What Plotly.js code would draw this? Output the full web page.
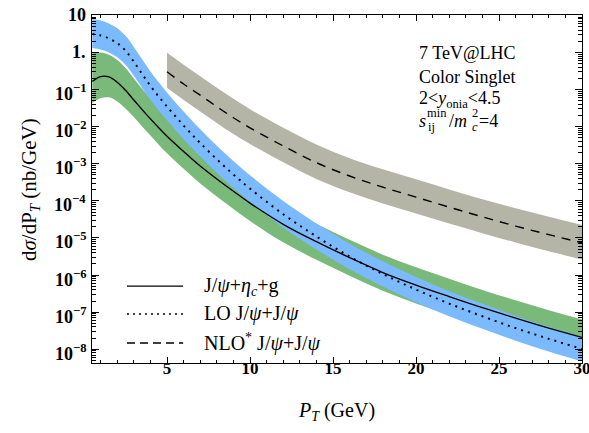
<!DOCTYPE html>
<html>
<head>
<meta charset="utf-8">
<script src="https://cdn.plot.ly/plotly-3.0.1.min.js"></script>
<style>html,body{margin:0;padding:0;background:#fff}#chart{width:589px;height:433px}</style>
</head>
<body>
<div id="chart"></div>
<script>
// ---- data ----
var ptCS = [0.5,1,1.5,2,2.5,3,3.5,4,4.5,5,5.5,6,6.5,7,8,9,10,12,14,16,18,20,22,24,26,28,30];

// J/psi + eta_c + g (solid) and its band (green)
var etacCentral = [0.166,0.224,0.219,0.158,0.0955,0.0525,0.0288,0.0162,9.33e-3,5.50e-3,3.39e-3,2.14e-3,1.35e-3,8.71e-4,3.89e-4,1.82e-4,8.71e-5,2.34e-5,7.94e-6,2.95e-6,1.17e-6,5.37e-7,2.63e-7,1.32e-7,6.92e-8,3.72e-8,2.09e-8];
var etacUpper   = [0.955,1.0,0.871,0.631,0.380,0.200,0.105,0.0562,0.0316,0.0182,0.0111,6.92e-3,4.32e-3,2.75e-3,1.20e-3,5.56e-4,2.63e-4,7.08e-5,2.40e-5,8.91e-6,3.55e-6,1.62e-6,7.94e-7,3.98e-7,2.09e-7,1.12e-7,6.31e-8];
var etacLower   = [0.0437,0.0589,0.0617,0.0479,0.0309,0.0182,0.0101,5.75e-3,3.27e-3,1.91e-3,1.17e-3,7.33e-4,4.60e-4,2.95e-4,1.31e-4,6.07e-5,2.88e-5,7.67e-6,2.57e-6,9.55e-7,3.76e-7,1.70e-7,8.32e-8,4.17e-8,2.19e-8,1.17e-8,6.61e-9];

// LO J/psi + J/psi (dotted) and its band (blue)
var loCentral = [3.16,2.88,2.40,1.78,1.12,0.562,0.263,0.126,0.0646,0.0347,0.0191,0.0107,6.17e-3,3.63e-3,1.32e-3,5.13e-4,2.14e-4,4.37e-5,1.10e-5,3.16e-6,1.07e-6,4.07e-7,1.70e-7,7.76e-8,3.72e-8,1.91e-8,1.02e-8];
var loUpper   = [7.94,7.24,6.03,4.47,2.82,1.41,0.653,0.309,0.157,0.0832,0.0455,0.0255,0.0146,8.51e-3,3.06e-3,1.18e-3,4.90e-4,9.89e-5,2.45e-5,7.00e-6,2.34e-6,8.91e-7,3.67e-7,1.68e-7,7.94e-8,4.07e-8,2.19e-8];
var loLower   = [1.32,1.20,1.0,0.741,0.468,0.236,0.110,0.0531,0.0274,0.0148,8.17e-3,4.60e-3,2.65e-3,1.57e-3,5.73e-4,2.23e-4,9.33e-5,1.93e-5,4.90e-6,1.43e-6,4.90e-7,1.86e-7,7.76e-8,3.55e-8,1.70e-8,8.71e-9,4.68e-9];

// NLO* J/psi + J/psi (dashed) and its band (grey)
var ptNLO = [5,6,7,8,9,10,12,14,16,18,20,22,24,26,28,30];
var nloCentral = [0.302,0.141,0.0708,0.0347,0.0174,9.33e-3,3.02e-3,1.07e-3,4.68e-4,2.34e-4,1.26e-4,6.76e-5,3.72e-5,2.09e-5,1.23e-5,7.41e-6];
var nloUpper   = [0.977,0.468,0.229,0.112,0.0562,0.0295,9.33e-3,3.31e-3,1.41e-3,7.08e-4,3.80e-4,2.04e-4,1.10e-4,6.31e-5,3.72e-5,2.24e-5];
var nloLower   = [0.112,0.0525,0.0257,0.0126,6.31e-3,3.39e-3,1.10e-3,3.89e-4,1.70e-4,8.51e-5,4.57e-5,2.45e-5,1.35e-5,7.59e-6,4.37e-6,2.63e-6];

var xTickVals = [5,10,15,20,25,30];
var yTickVals = [1e-8,1e-7,1e-6,1e-5,1e-4,1e-3,1e-2,1e-1,1,10];
var yTickText = ['10<sup>\u22128</sup>','10<sup>\u22127</sup>','10<sup>\u22126</sup>','10<sup>\u22125</sup>','10<sup>\u22124</sup>','10<sup>\u22123</sup>','10<sup>\u22122</sup>','10<sup>\u22121</sup>','1.','10'];
var yTitle = 'd<i>\u03c3</i>/dP<sub><i>T</i></sub> (nb/GeV)';
var legendLabels = ['J/<i>\u03c8</i>+<i>\u03b7</i><sub><i>c</i></sub>+g','LO J/<i>\u03c8</i>+J/<i>\u03c8</i>','NLO<sup>*</sup> J/<i>\u03c8</i>+J/<i>\u03c8</i>'];
var infoLines = ['7 TeV@LHC','Color Singlet','2&lt;<i>y</i><sub>onia</sub>&lt;4.5'];

// ---- styling ----
var GREEN = '#79b979', BLUE = '#7cbaff', GREY = '#b4b4a7';
var SERIF = 'Liberation Serif, Times New Roman, serif';

function band(x, lo, hi, color) {
  return [
    {x: x, y: lo, type: 'scatter', mode: 'lines', line: {width: 0, shape: 'spline', color: color}, hoverinfo: 'skip', showlegend: false},
    {x: x, y: hi, type: 'scatter', mode: 'lines', fill: 'tonexty', fillcolor: color, line: {width: 0, shape: 'spline', color: color}, hoverinfo: 'skip', showlegend: false}
  ];
}

var traces = [].concat(
  band(ptCS, etacLower, etacUpper, GREEN),
  band(ptCS, loLower, loUpper, BLUE),
  band(ptNLO, nloLower, nloUpper, GREY),
  [
    {x: ptCS, y: etacCentral, type: 'scatter', mode: 'lines', line: {color: 'black', width: 1.4, shape: 'spline'}, showlegend: false},
    {x: ptCS, y: loCentral, type: 'scatter', mode: 'lines', line: {color: 'black', width: 2, dash: '2px,5px', shape: 'spline'}, showlegend: false},
    {x: ptNLO, y: nloCentral, type: 'scatter', mode: 'lines', line: {color: 'black', width: 1.4, dash: '9px,7px', shape: 'spline'}, showlegend: false}
  ]
);

// minor tick positions for the log axis
var yMinor = [];
for (var e = -9; e <= 1; e++) { for (var m = 2; m <= 9; m++) { yMinor.push(m * Math.pow(10, e)); } }

var annotations = [];
var shapes = [];
function px2paperX(p) { return (p - 92) / 490; }
function px2paperY(p) { return (363 - p) / 348; }

// y tick labels, placed on the y scale (log axis -> exponent)
for (var k = 0; k < yTickVals.length; k++) {
  var hasSup = yTickText[k].indexOf('<sup>') >= 0;
  annotations.push({xref: 'paper', yref: 'y', x: px2paperX(88), y: Math.log10(yTickVals[k]), xanchor: 'right', yanchor: 'middle',
    yshift: hasSup ? -3 : 0, text: '<b>' + yTickText[k] + '</b>', showarrow: false,
    font: {family: SERIF, size: 18, color: 'black'}});
}
// y axis title
annotations.push({xref: 'paper', yref: 'paper', x: px2paperX(30), y: px2paperY(190), xanchor: 'center', yanchor: 'middle',
  textangle: -90, text: yTitle, showarrow: false, font: {family: SERIF, size: 21, color: 'black'}});

var legY = [0.221, 0.141, 0.0575];
var legDash = ['solid', '2px,4px', '8px,5px'];
for (var i = 0; i < 3; i++) {
  shapes.push({type: 'line', xref: 'paper', yref: 'paper', x0: 0.0714, x1: 0.186, y0: legY[i], y1: legY[i],
    line: {color: 'black', width: i === 1 ? 1.6 : 1.3, dash: legDash[i]}});
  annotations.push({xref: 'paper', yref: 'paper', x: 0.2245, y: legY[i], xanchor: 'left', yanchor: 'middle',
    text: legendLabels[i], showarrow: false, font: {family: SERIF, size: 20, color: 'black'}});
}
var infoPy = [53, 77, 100];
for (var j = 0; j < 3; j++) {
  annotations.push({xref: 'paper', yref: 'paper', x: px2paperX(417), y: px2paperY(infoPy[j]), xanchor: 'left', yanchor: 'middle',
    text: infoLines[j], showarrow: false, font: {family: SERIF, size: 18, color: 'black'}});
}
// s_ij^min / m_c^2 = 4 with stacked scripts
var f18 = {family: SERIF, size: 18, color: 'black'};
var f12 = {family: SERIF, size: 12.5, color: 'black'};
annotations.push({xref: 'paper', yref: 'paper', x: px2paperX(417), y: px2paperY(121), xanchor: 'left', yanchor: 'middle', text: '<i>s</i>', showarrow: false, font: f18});
annotations.push({xref: 'paper', yref: 'paper', x: px2paperX(425), y: px2paperY(113), xanchor: 'left', yanchor: 'middle', text: 'min', showarrow: false, font: f12});
annotations.push({xref: 'paper', yref: 'paper', x: px2paperX(426), y: px2paperY(127), xanchor: 'left', yanchor: 'middle', text: 'ij', showarrow: false, font: f12});
annotations.push({xref: 'paper', yref: 'paper', x: px2paperX(447), y: px2paperY(121), xanchor: 'left', yanchor: 'middle', text: '/<i>m</i>', showarrow: false, font: f18});
annotations.push({xref: 'paper', yref: 'paper', x: px2paperX(470), y: px2paperY(113), xanchor: 'left', yanchor: 'middle', text: '2', showarrow: false, font: f12});
annotations.push({xref: 'paper', yref: 'paper', x: px2paperX(470), y: px2paperY(127), xanchor: 'left', yanchor: 'middle', text: '<i>c</i>', showarrow: false, font: f12});
annotations.push({xref: 'paper', yref: 'paper', x: px2paperX(477), y: px2paperY(121), xanchor: 'left', yanchor: 'middle', text: '=4', showarrow: false, font: f18});

var layout = {
  width: 589, height: 433,
  margin: {l: 92, r: 7, t: 15, b: 70},
  paper_bgcolor: '#fff', plot_bgcolor: '#fff',
  showlegend: false,
  xaxis: {
    range: [0.48, 30], tickmode: 'array', tickvals: xTickVals, ticktext: xTickVals.map(function (v) { return '<b>' + v + '</b>'; }),
    ticks: 'inside', ticklen: 6, tickwidth: 1, tickcolor: 'black', ticklabeloverflow: 'allow', ticklabelstandoff: -10,
    minor: {dtick: 1, tick0: 0, ticks: 'inside', ticklen: 3, tickwidth: 1, tickcolor: 'black', showgrid: false},
    showline: true, linecolor: 'black', linewidth: 1, mirror: 'allticks', showgrid: false, zeroline: false,
    tickfont: {family: SERIF, size: 17, color: 'black', weight: 'bold'},
    title: {text: '<i>P</i><sub><i>T</i></sub> (GeV)', font: {family: SERIF, size: 20, color: 'black'}, standoff: 25}
  },
  yaxis: {
    type: 'log', range: [-8.37, 1.01], tickmode: 'array', tickvals: yTickVals, showticklabels: false,
    ticks: 'inside', ticklen: 7, tickwidth: 1, tickcolor: 'black',
    minor: {tickmode: 'array', tickvals: yMinor, ticks: 'inside', ticklen: 4, tickwidth: 1, tickcolor: 'black', showgrid: false},
    showline: true, linecolor: 'black', linewidth: 1, mirror: 'allticks', showgrid: false, zeroline: false
  },
  shapes: shapes,
  annotations: annotations
};

Plotly.newPlot('chart', traces, layout, {staticPlot: true, displayModeBar: false});
</script>
</body>
</html>
